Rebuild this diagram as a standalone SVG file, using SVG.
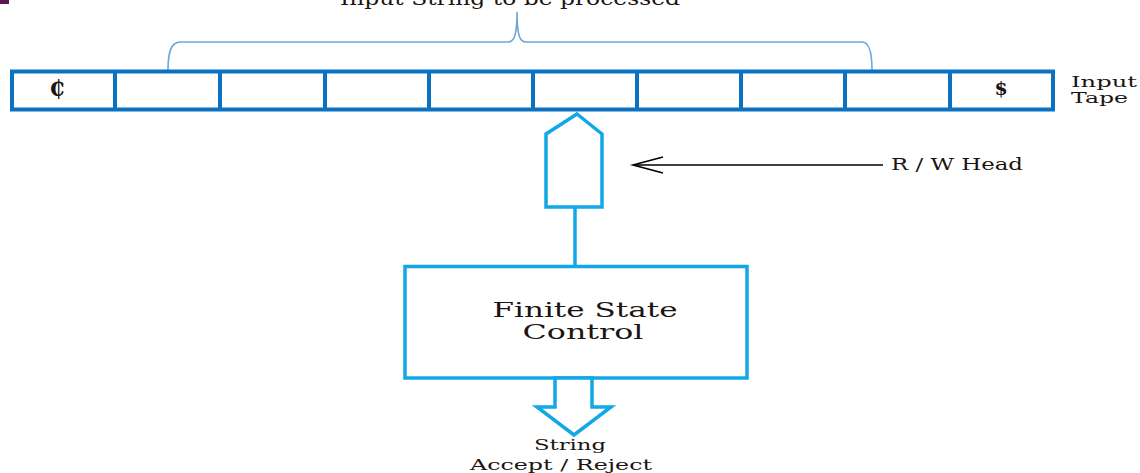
<svg xmlns="http://www.w3.org/2000/svg" width="1140" height="473" viewBox="0 0 1140 473">
  <style>
    .txt { font-family: "DejaVu Serif", "Liberation Serif", serif; fill: #1c1410; }
    .tape { fill: #ffffff; stroke: #0a72c2; stroke-width: 4; }
    .cell { stroke: #0a72c2; stroke-width: 4; }
    .cyan { fill: #ffffff; stroke: #12a8e8; stroke-width: 3.5; stroke-linejoin: miter; }
    .cyanline { fill: none; stroke: #12a8e8; stroke-width: 3.5; }
    .brace { fill: none; stroke: #6ea6dc; stroke-width: 1.6; }
    .wire { fill: none; stroke: #000000; stroke-width: 1.6; }
  </style>

  <rect width="1140" height="473" fill="#ffffff"/>
  <!-- corner mark -->
  <rect x="0" y="0" width="9" height="4" fill="#5a1a50"/>

  <!-- brace over the processed part of the tape -->
  <g id="input-string">
    <path class="brace" d="M168,70 C168,52 171,42 180,42 L508,42 C514,42 517,36 517,12 C517,36 520,42 526,42 L862,42 C869,42 872,52 872,70"/>
    <text class="txt" x="510" y="5" font-size="19" text-anchor="middle" textLength="340" lengthAdjust="spacingAndGlyphs">Input String to be processed</text>
  </g>

  <!-- input tape -->
  <g id="tape">
    <rect class="tape" x="12" y="71.5" width="1041" height="38"/>
    <line class="cell" x1="115" y1="71.5" x2="115" y2="109.5"/>
    <line class="cell" x1="220" y1="71.5" x2="220" y2="109.5"/>
    <line class="cell" x1="325" y1="71.5" x2="325" y2="109.5"/>
    <line class="cell" x1="429" y1="71.5" x2="429" y2="109.5"/>
    <line class="cell" x1="533" y1="71.5" x2="533" y2="109.5"/>
    <line class="cell" x1="637" y1="71.5" x2="637" y2="109.5"/>
    <line class="cell" x1="741" y1="71.5" x2="741" y2="109.5"/>
    <line class="cell" x1="845" y1="71.5" x2="845" y2="109.5"/>
    <line class="cell" x1="950" y1="71.5" x2="950" y2="109.5"/>
    <text class="txt" x="57" y="96" font-size="22" font-weight="bold" text-anchor="middle">₵</text>
    <text class="txt" x="1001" y="95" font-size="19" font-weight="bold" text-anchor="middle">$</text>
    <text class="txt" x="1071" y="87" font-size="15" textLength="66" lengthAdjust="spacingAndGlyphs">Input</text>
    <text class="txt" x="1071" y="103" font-size="15" textLength="57" lengthAdjust="spacingAndGlyphs">Tape</text>
  </g>

  <!-- read / write head -->
  <g id="head">
    <polygon class="cyan" points="577,114 602,134 602,207 546,207 546,134"/>
    <text class="txt" x="891" y="170" font-size="16" textLength="132" lengthAdjust="spacingAndGlyphs">R / W Head</text>
  </g>

  <!-- finite state control -->
  <g id="control">
    <rect class="cyan" x="405" y="266.5" width="342" height="111.5"/>
    <text class="txt" x="585" y="317" font-size="20" text-anchor="middle" textLength="185" lengthAdjust="spacingAndGlyphs">Finite State</text>
    <text class="txt" x="583" y="339" font-size="20" text-anchor="middle" textLength="121" lengthAdjust="spacingAndGlyphs">Control</text>
  </g>

  <!-- output -->
  <g id="result">
    <text class="txt" x="570" y="450" font-size="15" text-anchor="middle" textLength="72" lengthAdjust="spacingAndGlyphs">String</text>
    <text class="txt" x="561" y="470" font-size="15" text-anchor="middle" textLength="182" lengthAdjust="spacingAndGlyphs">Accept / Reject</text>
  </g>

  <g id="connectors">
    <!-- head to control -->
    <line class="cyanline" x1="575" y1="207" x2="575" y2="266.5"/>
    <!-- R/W head pointer -->
    <line class="wire" x1="883" y1="165" x2="633" y2="165"/>
    <polyline class="wire" points="663,157 633,165 663,173"/>
    <!-- hollow result arrow -->
    <polygon class="cyan" points="555,378 592,378 592,407 611,407 574,435 537,407 555,407"/>
  </g>
</svg>
